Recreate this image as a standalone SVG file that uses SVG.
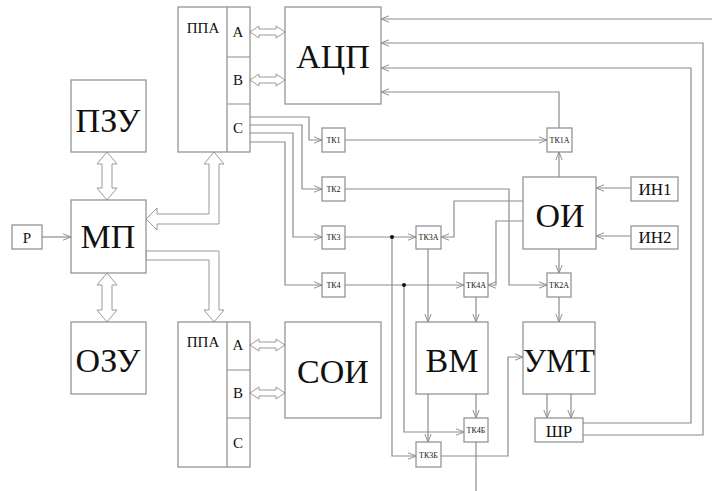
<svg xmlns="http://www.w3.org/2000/svg" width="712" height="491" viewBox="0 0 712 491" font-family="'Liberation Serif','DejaVu Serif',serif">
<defs>
<style>
.b{fill:#fff;stroke:#8c8c8c;stroke-width:1.2}
.l{fill:none;stroke:#8c8c8c;stroke-width:1.2}
.d{fill:#fff;stroke:#999;stroke-width:1}
.a{marker-end:url(#ar)}
text{font-family:'Liberation Serif','DejaVu Serif',serif;fill:#111;text-anchor:middle}
.big{font-size:34px}
.mid{font-size:17px}
.sm{font-size:15px}
.tk{font-size:8px}
</style>
<marker id="ar" viewBox="0 0 10 10" refX="10" refY="5" markerWidth="8" markerHeight="8" markerUnits="userSpaceOnUse" orient="auto">
<path d="M0,1 L10,5 L0,9" fill="none" stroke="#8c8c8c" stroke-width="1.2"/>
</marker>
</defs>
<rect width="712" height="491" fill="#fff"/>

<g id="connectors">
<polygon class="d" points="250,32 259,26 259,29 276,29 276,26 285,32 276,38 276,35 259,35 259,38"/>
<polygon class="d" points="250,80 259,74 259,77 276,77 276,74 285,80 276,86 276,83 259,83 259,86"/>
<polygon class="d" points="250,345 259,339 259,342 276,342 276,339 285,345 276,351 276,348 259,348 259,351"/>
<polygon class="d" points="250,393 259,387 259,390 276,390 276,387 285,393 276,399 276,396 259,396 259,399"/>
<polygon class="d" points="107,152 117,164 112,164 112,188 117,188 107,200 97,188 102,188 102,164 97,164"/>
<polygon class="d" points="107,273 117,285 112,285 112,310 117,310 107,322 97,310 102,310 102,285 97,285"/>
<polygon class="d" points="146,219 157,208 157,214 209,214 209,164 204,164 214,152 224,164 219,164 219,224 157,224 157,230"/>
<polygon class="d" points="146,251 219,251 219,310 224,310 214,322 204,310 209,310 209,260 146,260"/>
<path class="l a" d="M42,237 H71"/>
<path class="l a" d="M250,117 H309 V140 H322"/>
<path class="l a" d="M250,125 H302 V189 H322"/>
<path class="l a" d="M250,133 H293 V237 H322"/>
<path class="l a" d="M250,142 H285 V285 H322"/>
<path class="l a" d="M345,140 H547"/>
<path class="l a" d="M559,128 V92 H381"/>
<path class="l a" d="M559,177 V152"/>
<path class="l a" d="M631,188 H596"/>
<path class="l a" d="M631,236 H596"/>
<path class="l a" d="M345,189 H509 V285 H547"/>
<path class="l a" d="M559,249 V273"/>
<path class="l a" d="M559,297 V322"/>
<path class="l a" d="M523,201 H454 V237 H441"/>
<path class="l a" d="M523,221 H496 V285 H488"/>
<path class="l a" d="M345,237 H416"/>
<path class="l a" d="M345,285 H464"/>
<path class="l a" d="M428,249 V322"/>
<path class="l a" d="M476,297 V322"/>
<path class="l a" d="M428,394 V442"/>
<path class="l a" d="M476,394 V418"/>
<path class="l a" d="M392,237 V456 H416"/>
<path class="l a" d="M404,285 V432 H464"/>
<circle cx="392" cy="237" r="2" fill="#111"/>
<circle cx="404" cy="285" r="2" fill="#111"/>
<path class="l a" d="M441,456 H508 V357 H523"/>
<path class="l" d="M476,442 V491"/>
<path class="l a" d="M547,394 V418"/>
<path class="l a" d="M571,394 V418"/>
<path class="l a" d="M583,423 H691 V68 H381"/>
<path class="l a" d="M583,435 H703 V43 H381"/>
<path class="l a" d="M712,19 H381"/>
</g>

<g id="ppa1">
<rect class="b" x="178" y="7" width="72" height="145"/>
<path class="l" d="M227,7 V152 M227,57 H250 M227,104 H250"/>
<text class="sm" x="203" y="33">ППА</text>
<text class="sm" x="238" y="37">А</text>
<text class="sm" x="238" y="85">В</text>
<text class="sm" x="238" y="133">С</text>
</g>
<g id="adc"><rect class="b" x="285" y="7" width="96" height="97"/><text class="big" x="333" y="68">АЦП</text></g>
<g id="pzu"><rect class="b" x="71" y="80" width="75" height="72"/><text class="big" x="108" y="132">ПЗУ</text></g>
<g id="mp"><rect class="b" x="71" y="200" width="75" height="73"/><text class="big" x="108" y="248">МП</text></g>
<g id="ozu"><rect class="b" x="71" y="322" width="75" height="72"/><text class="big" x="108" y="372">ОЗУ</text></g>
<g id="r"><rect class="b" x="12" y="225" width="30" height="24"/><text class="sm" x="27" y="243">Р</text></g>
<g id="ppa2">
<rect class="b" x="178" y="322" width="72" height="145"/>
<path class="l" d="M227,322 V467 M227,370 H250 M227,418 H250"/>
<text class="sm" x="203" y="347">ППА</text>
<text class="sm" x="238" y="350">А</text>
<text class="sm" x="238" y="398">В</text>
<text class="sm" x="238" y="448">С</text>
</g>
<g id="soi"><rect class="b" x="285" y="322" width="96" height="96"/><text class="big" x="333" y="383">СОИ</text></g>
<g id="tk1"><rect class="b" x="322" y="128" width="23" height="24"/><text class="tk" x="333.5" y="143">ТК1</text></g>
<g id="tk2"><rect class="b" x="322" y="177" width="23" height="24"/><text class="tk" x="333.5" y="192">ТК2</text></g>
<g id="tk3"><rect class="b" x="322" y="226" width="23" height="23"/><text class="tk" x="333.5" y="240">ТК3</text></g>
<g id="tk4"><rect class="b" x="322" y="273" width="23" height="24"/><text class="tk" x="333.5" y="288">ТК4</text></g>
<g id="tk1a"><rect class="b" x="547" y="128" width="25" height="24"/><text class="tk" x="559.5" y="143">ТК1А</text></g>
<g id="tk2a"><rect class="b" x="547" y="273" width="24" height="24"/><text class="tk" x="559" y="288">ТК2А</text></g>
<g id="tk3a"><rect class="b" x="416" y="226" width="25" height="23"/><text class="tk" x="428.5" y="240">ТК3А</text></g>
<g id="tk4a"><rect class="b" x="464" y="273" width="24" height="24"/><text class="tk" x="476" y="288">ТК4А</text></g>
<g id="tk3b"><rect class="b" x="416" y="442" width="25" height="25"/><text class="tk" x="428.5" y="458">ТК3Б</text></g>
<g id="tk4b"><rect class="b" x="464" y="418" width="24" height="24"/><text class="tk" x="476" y="433">ТК4Б</text></g>
<g id="oi"><rect class="b" x="523" y="177" width="73" height="72"/><text class="big" x="560" y="227">ОИ</text></g>
<g id="in1"><rect class="b" x="631" y="177" width="47" height="24"/><text class="mid" x="655" y="195">ИН1</text></g>
<g id="in2"><rect class="b" x="631" y="226" width="47" height="23"/><text class="mid" x="655" y="243">ИН2</text></g>
<g id="bm"><rect class="b" x="416" y="322" width="72" height="72"/><text class="big" x="452" y="372">ВМ</text></g>
<g id="umt"><rect class="b" x="523" y="322" width="72" height="72"/><text class="big" x="559" y="372" textLength="72" lengthAdjust="spacingAndGlyphs">УМТ</text></g>
<g id="shr"><rect class="b" x="535" y="418" width="48" height="24"/><text class="mid" x="559" y="437">ШР</text></g>
</svg>
